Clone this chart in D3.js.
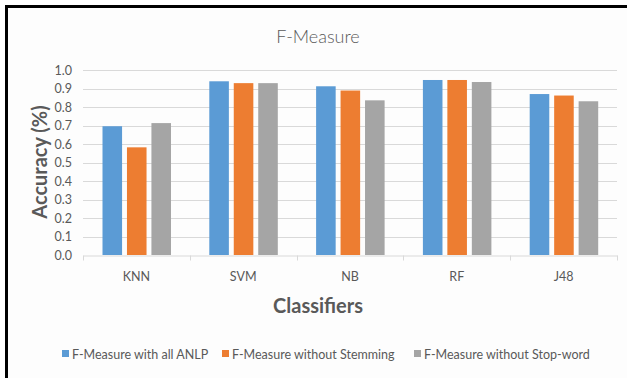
<!DOCTYPE html>
<html>
<head>
<meta charset="utf-8">
<script src="https://cdn.jsdelivr.net/npm/d3@7"></script>
<style>
html,body{margin:0;padding:0;background:#fff;}
svg{display:block;}
text{font-family:Lato, "Open Sans", sans-serif;}
</style>
</head>
<body>
<script>
const categories = ["KNN", "SVM", "NB", "RF", "J48"];
const seriesNames = ["F-Measure with all ANLP", "F-Measure without Stemming", "F-Measure without Stop-word"];
const allANLP = [0.696, 0.939, 0.912, 0.946, 0.870];
const withoutStemming = [0.582, 0.929, 0.889, 0.946, 0.862];
const withoutStopword = [0.713, 0.929, 0.836, 0.935, 0.831];
const yTicks = [0, 0.1, 0.2, 0.3, 0.4, 0.5, 0.6, 0.7, 0.8, 0.9, 1.0];
const colors = ["#5B9BD5", "#ED7D31", "#A5A5A5"];

const seriesValues = [allANLP, withoutStemming, withoutStopword];
const W = 627, H = 378;
const svg = d3.select("body").append("svg").attr("width", W).attr("height", H);

svg.append("rect").attr("x", 0).attr("y", 0).attr("width", W).attr("height", H).attr("fill", "#fff");
svg.append("rect").attr("x", 7).attr("y", 7).attr("width", W - 7).attr("height", H - 7).attr("fill", "#fdfdfd");
svg.append("path").attr("d", `M6.5,${H} V6.5 H${W}`).attr("fill", "none").attr("stroke", "#000").attr("stroke-width", 3);

const x0 = d3.scaleBand().domain(categories).range([83, 617]).paddingInner(0).paddingOuter(0);
const x1 = d3.scaleBand().domain(d3.range(3)).range([19.5, 88]).paddingInner(0.2).paddingOuter(0);
const y = d3.scaleLinear().domain([0, 1]).range([255, 70]);

// gridlines
svg.append("g").selectAll("line").data(yTicks.filter(d => d > 0)).join("line")
  .attr("x1", 83).attr("x2", 617)
  .attr("y1", d => Math.round(y(d)) + 0.5).attr("y2", d => Math.round(y(d)) + 0.5)
  .attr("stroke", "#D9D9D9").attr("stroke-width", 1);

// bars
const groups = svg.append("g").selectAll("g").data(categories).join("g")
  .attr("transform", c => `translate(${x0(c)},0)`);
groups.selectAll("rect").data((c, i) => seriesValues.map((s, k) => ({k, v: s[i]}))).join("rect")
  .attr("x", d => x1(d.k)).attr("width", x1.bandwidth())
  .attr("y", d => y(d.v)).attr("height", d => y(0) - y(d.v))
  .attr("fill", d => colors[d.k]);

// x axis
const xAxis = d3.axisBottom(x0).tickSize(0).tickFormat("");
const gx = svg.append("g").attr("transform", `translate(0,${Math.round(y(0)) + 0.5})`).call(xAxis);
gx.select(".domain").attr("stroke", "#D9D9D9");
const bounds = categories.map(c => x0(c)).concat([x0.range()[1]]);
gx.selectAll(".sep").data(bounds).join("line").attr("class", "sep")
  .attr("x1", d => Math.round(d) + 0.5).attr("x2", d => Math.round(d) + 0.5)
  .attr("y1", 0).attr("y2", 5).attr("stroke", "#D9D9D9");
svg.append("g").selectAll("text").data(categories).join("text")
  .attr("x", c => x0(c) + x0.bandwidth() / 2).attr("y", 281)
  .attr("text-anchor", "middle").attr("font-size", 12.5).attr("fill", "#595959").text(c => c);

// y tick labels
svg.append("g").selectAll("text").data(yTicks).join("text")
  .attr("x", 72).attr("y", d => y(d) + 4.5)
  .attr("text-anchor", "end").attr("font-size", 12.5).attr("fill", "#595959")
  .text(d => d3.format(".1f")(d));

// title
svg.append("text").attr("x", 318).attr("y", 43).attr("text-anchor", "middle")
  .attr("font-size", 18).attr("font-weight", 300).attr("fill", "#595959").text("F-Measure");

// axis titles
svg.append("text").attr("transform", "translate(47,162) rotate(-90)").attr("text-anchor", "middle")
  .attr("font-size", 20).attr("font-weight", "bold").attr("fill", "#595959").text("Accuracy (%)");
svg.append("text").attr("x", 318).attr("y", 313).attr("text-anchor", "middle")
  .attr("font-size", 20).attr("font-weight", "bold").attr("fill", "#595959").text("Classifiers");

// legend
const legX = [62, 222, 414];
const leg = svg.append("g").selectAll("g").data(seriesNames).join("g")
  .attr("transform", (d, i) => `translate(${legX[i]},0)`);
leg.append("rect").attr("x", 0).attr("y", 350).attr("width", 7).attr("height", 7).attr("fill", (d, i) => colors[i]);
leg.append("text").attr("x", 10).attr("y", 359).attr("font-size", 12.5).attr("fill", "#595959").text(d => d);
</script>
</body>
</html>
